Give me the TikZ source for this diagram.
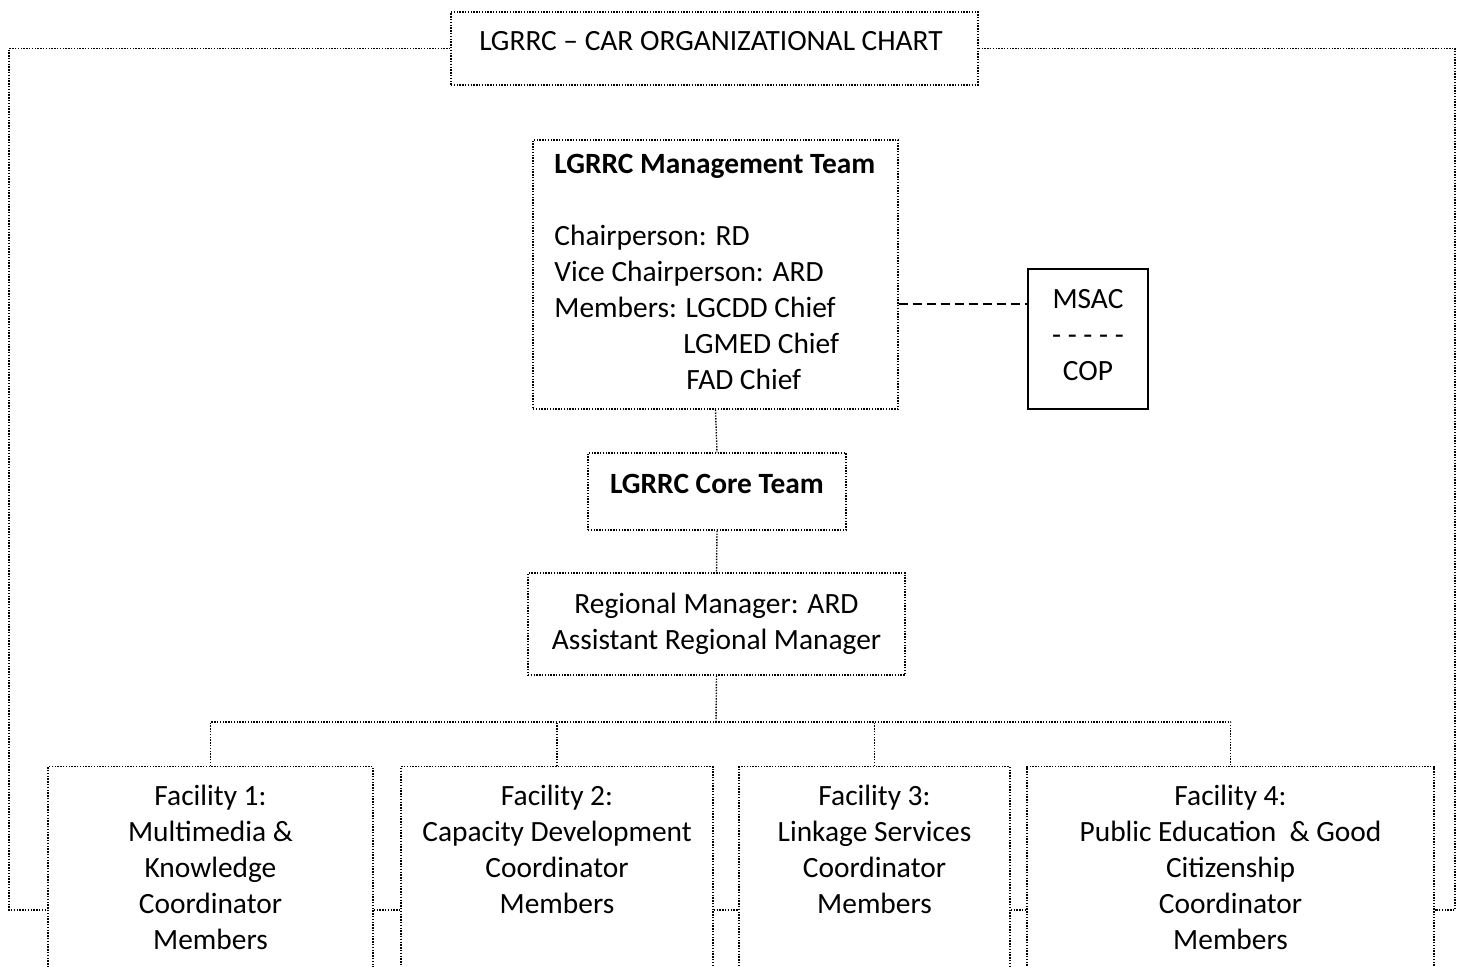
\documentclass[tikz,border=0pt]{standalone}
\usepackage{fontspec}
\setmainfont{Carlito}
\begin{document}
\begin{tikzpicture}[x=0.5pt,y=-0.5pt,
  dotbox/.style={draw, line width=0.7pt, dash pattern=on 0.7pt off 0.7pt, rectangle, inner sep=0pt},
  dotline/.style={line width=0.7pt, dash pattern=on 0.7pt off 0.7pt},
  txt/.style={font=\fontsize{14.7}{18}\selectfont, align=center, inner sep=0pt},
  every node/.style={font=\fontsize{14.7}{18}\selectfont}]
\fill[white] (0,0) rectangle (1462,966);
\useasboundingbox (0,0) rectangle (1462,966);
\clip (0,0) rectangle (1462,966);
% title
\node[dotbox, minimum width=263.5pt, minimum height=36.5pt] (title) at (714.5,48.5) {};
\node[txt] (titlet) at (711,41) {LGRRC – CAR ORGANIZATIONAL CHART};
% management
\node[dotbox, minimum width=182.5pt, minimum height=134.5pt] (mgmt) at (715.5,274.5) {};
\node[txt, align=left, anchor=north west] (mgmtt) at (554,154)
 {\textbf{LGRRC Management Team}\\[18pt]
  Chairperson: RD\\
  Vice Chairperson: ARD\\
  Members: LGCDD Chief\\
  \hspace*{64.5pt}LGMED Chief\\
  \hspace*{66pt}FAD Chief};
% MSAC
\node[draw, line width=0.7pt, minimum width=60pt, minimum height=70pt, inner sep=0pt] (msac) at (1088,339) {};
\node[txt] (msact) at (1088,335) {MSAC\\- - - - -\\COP};
% core
\node[dotbox, minimum width=129pt, minimum height=38.5pt] (core) at (717,491.5) {};
\node[txt] (coret) at (717,484) {\textbf{LGRRC Core Team}};
% regional
\node[dotbox, minimum width=188.5pt, minimum height=51pt, txt] (reg) at (716.5,624) {Regional Manager: ARD\\Assistant Regional Manager};
% facilities
\node[dotbox, minimum width=162.5pt, minimum height=120pt, anchor=north] (f1) at (210.5,766) {};
\node[dotbox, minimum width=156pt, minimum height=120pt, anchor=north] (f2) at (557,766) {};
\node[dotbox, minimum width=135.5pt, minimum height=120pt, anchor=north] (f3) at (874.5,766) {};
\node[dotbox, minimum width=203.5pt, minimum height=120pt, anchor=north] (f4) at (1230.5,766) {};
\node[txt, anchor=north] (f1t) at (210.5,785) {Facility 1:\\Multimedia \&\\Knowledge\\Coordinator\\Members};
\node[txt, anchor=north] (f2t) at (557,785) {Facility 2:\\Capacity Development\\Coordinator\\Members};
\node[txt, anchor=north] (f3t) at (874.5,785) {Facility 3:\\Linkage Services\\Coordinator\\Members};
\node[txt, anchor=north] (f4t) at (1230.5,785) {Facility 4:\\Public Education\ \ \& Good\\Citizenship\\Coordinator\\Members};
% coordinates
\coordinate (lb) at (9,910);
\coordinate (rb) at (1455,910);
\coordinate (bus) at (716,722);
\coordinate (dl) at (0,304);
% connectors
\draw[dotline] (title.west) -| (lb) -- (lb -| f1.west);
\draw[dotline] (title.east) -| (rb) -- (rb -| f4.east);
\draw[dotline] (lb -| f1.east) -- (lb -| f2.west);
\draw[dotline] (lb -| f2.east) -- (lb -| f3.west);
\draw[dotline] (lb -| f3.east) -- (lb -| f4.west);
\draw[dotline] (mgmt.south) -- (core.north);
\draw[dotline] (core.south) -- (reg.north);
\draw[dotline] (reg.south) -- (bus);
\draw[dotline] (f1.north) |- (bus) -| (f4.north);
\draw[dotline] (f2.north) -- (f2.north |- bus);
\draw[dotline] (f3.north) -- (f3.north |- bus);
\draw[line width=0.7pt, dash pattern=on 4.5pt off 2.5pt] (dl -| mgmt.east) -- (dl -| msac.west);
\end{tikzpicture}
\end{document}
